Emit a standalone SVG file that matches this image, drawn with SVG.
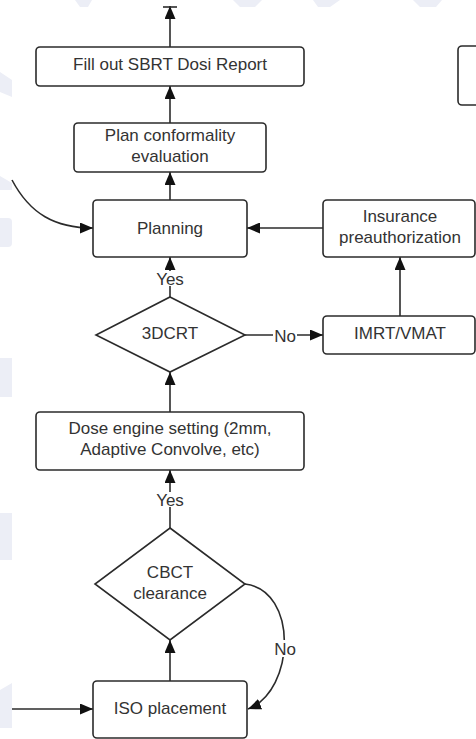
<svg xmlns="http://www.w3.org/2000/svg" width="476" height="739" viewBox="0 0 476 739">
  <style>
    .box { fill: #ffffff; stroke: #2b2b2b; stroke-width: 1.6; }
    .lbl { font-family: "Liberation Sans", Arial, sans-serif; font-size: 17px; fill: #333333; text-anchor: middle; dominant-baseline: central; }
    .edge { fill: none; stroke: #2b2b2b; stroke-width: 1.6; }
    .mark { fill: #eceef6; }
  </style>
  <defs>
    <marker id="arrow" markerUnits="userSpaceOnUse" markerWidth="13" markerHeight="11" refX="13" refY="5.5" orient="auto">
      <path d="M0,0 L13,5.5 L0,11 z" fill="#111111"/>
    </marker>
  </defs>

  <rect width="476" height="739" fill="#ffffff"/>

  <!-- faint background marks -->
  <g id="background">
    <polygon class="mark" points="75,0 92,0 88,7 80,7"/>
    <polygon class="mark" points="233,0 262,0 255,7 240,7"/>
    <polygon class="mark" points="313,0 340,0 330,7 318,7"/>
    <polygon class="mark" points="413,0 442,0 436,7 420,7"/>
    <polygon class="mark" points="0,72 12,80 12,97 0,92"/>
    <polygon class="mark" points="0,176 12,183 12,190 0,190"/>
    <path class="mark" d="M0,218 H8 Q12,218 12,222 V243 Q12,247 8,247 H0 z"/>
    <rect class="mark" x="0" y="358" width="12" height="39"/>
    <rect class="mark" x="0" y="513" width="12" height="47"/>
    <polygon class="mark" points="0,690 12,683 12,728 0,728"/>
  </g>

  <!-- connectors -->
  <g id="connectors">
    <line class="edge" x1="170" y1="47" x2="170" y2="6" marker-end="url(#arrow)"/>
    <line class="edge" x1="163" y1="7" x2="177" y2="7"/>
    <line class="edge" x1="170" y1="123" x2="170" y2="86" marker-end="url(#arrow)"/>
    <line class="edge" x1="170" y1="200" x2="170" y2="172" marker-end="url(#arrow)"/>
    <path class="edge" d="M12,180 C30,214 55,228 93,228" marker-end="url(#arrow)"/>
    <line class="edge" x1="323" y1="228" x2="247" y2="228" marker-end="url(#arrow)"/>
    <line class="edge" x1="170" y1="297" x2="170" y2="257" marker-end="url(#arrow)"/>
    <line class="edge" x1="245" y1="335" x2="323" y2="335" marker-end="url(#arrow)"/>
    <line class="edge" x1="400" y1="316" x2="400" y2="257" marker-end="url(#arrow)"/>
    <line class="edge" x1="170" y1="412" x2="170" y2="372" marker-end="url(#arrow)"/>
    <line class="edge" x1="170" y1="528" x2="170" y2="470" marker-end="url(#arrow)"/>
    <line class="edge" x1="170" y1="681" x2="170" y2="640" marker-end="url(#arrow)"/>
    <line class="edge" x1="12" y1="709" x2="93" y2="709" marker-end="url(#arrow)"/>
    <path class="edge" d="M245,584 C298,590 296,690 248,709" marker-end="url(#arrow)"/>

    <!-- connector labels -->
    <rect x="156" y="271" width="28" height="15" fill="#ffffff"/>
    <text class="lbl" x="170" y="279">Yes</text>
    <rect x="273" y="327" width="24" height="16" fill="#ffffff"/>
    <text class="lbl" x="285" y="336">No</text>
    <rect x="156" y="492" width="28" height="15" fill="#ffffff"/>
    <text class="lbl" x="170" y="500">Yes</text>
    <rect x="274" y="640" width="24" height="17" fill="#ffffff"/>
    <text class="lbl" x="285" y="649">No</text>
  </g>

  <!-- nodes -->
  <g id="fill-report">
    <rect class="box" x="36" y="47" width="268" height="39" rx="4"/>
    <text class="lbl" x="170" y="64">Fill out SBRT Dosi Report</text>
  </g>
  <g id="partial-box">
    <rect class="box" x="458" y="46" width="40" height="59" rx="4"/>
  </g>
  <g id="conformality">
    <rect class="box" x="74" y="123" width="192" height="49" rx="4"/>
    <text class="lbl" x="170" y="135">Plan conformality</text>
    <text class="lbl" x="170" y="156">evaluation</text>
  </g>
  <g id="planning">
    <rect class="box" x="93" y="200" width="154" height="57" rx="4"/>
    <text class="lbl" x="170" y="228">Planning</text>
  </g>
  <g id="insurance">
    <rect class="box" x="323" y="200" width="152" height="57" rx="4"/>
    <text class="lbl" x="400" y="216">Insurance</text>
    <text class="lbl" x="400" y="237">preauthorization</text>
  </g>
  <g id="decision-3dcrt">
    <polygon class="box" points="170,297 245,335 170,372 96,335"/>
    <text class="lbl" x="170" y="333">3DCRT</text>
  </g>
  <g id="imrt-vmat">
    <rect class="box" x="323" y="316" width="152" height="38" rx="4"/>
    <text class="lbl" x="400" y="333">IMRT/VMAT</text>
  </g>
  <g id="dose-engine">
    <rect class="box" x="36" y="412" width="268" height="58" rx="4"/>
    <text class="lbl" x="170" y="428">Dose engine setting (2mm,</text>
    <text class="lbl" x="170" y="449">Adaptive Convolve, etc)</text>
  </g>
  <g id="decision-cbct">
    <polygon class="box" points="170,528 245,584 170,640 95,584"/>
    <text class="lbl" x="170" y="572">CBCT</text>
    <text class="lbl" x="170" y="593">clearance</text>
  </g>
  <g id="iso-placement">
    <rect class="box" x="93" y="681" width="154" height="57" rx="4"/>
    <text class="lbl" x="170" y="708">ISO placement</text>
  </g>
</svg>
